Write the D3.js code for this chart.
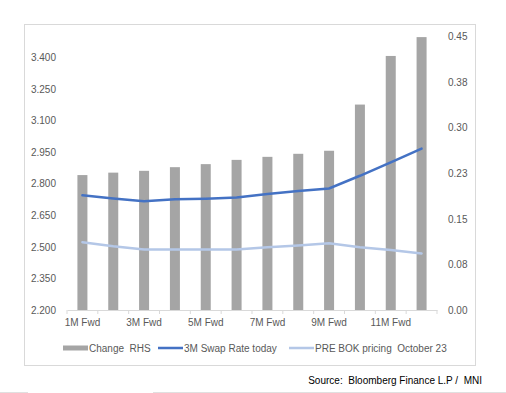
<!DOCTYPE html>
<html>
<head>
<meta charset="utf-8">
<script src="https://cdn.jsdelivr.net/npm/d3@7"></script>
<style>
  body { margin: 0; background: #fff; }
  text { font-family: "Liberation Sans", Arial, sans-serif; white-space: pre; }
</style>
</head>
<body>
<svg id="chart" width="506" height="393"></svg>
<script>
// categories and series
let months = ["1M Fwd","2M Fwd","3M Fwd","4M Fwd","5M Fwd","6M Fwd","7M Fwd","8M Fwd","9M Fwd","10M Fwd","11M Fwd","12M Fwd"];
let changeRHS = [0.222, 0.226, 0.229, 0.235, 0.240, 0.247, 0.252, 0.257, 0.262, 0.338, 0.418, 0.449];
let swapToday = [2.745, 2.730, 2.717, 2.726, 2.729, 2.735, 2.751, 2.766, 2.778, 2.838, 2.902, 2.967];
let preBOK = [2.522, 2.503, 2.488, 2.488, 2.488, 2.488, 2.498, 2.507, 2.517, 2.498, 2.485, 2.469];
let leftTicks = [2.2, 2.35, 2.5, 2.65, 2.8, 2.95, 3.1, 3.25, 3.4];
let rightTicks = [0, 0.075, 0.15, 0.225, 0.3, 0.375, 0.45];

let svg = d3.select("#chart");
let textCol = "#595959";

// outer frame
svg.append("rect")
    .attr("x", 24.5).attr("y", 24.5)
    .attr("width", 451).attr("height", 341)
    .attr("fill", "none").attr("stroke", "#d9d9d9");

// scales
let x = d3.scaleBand()
    .domain(months)
    .range([67, 437]);
let yL = d3.scaleLinear()
    .domain([2.2, 3.5])
    .range([310, 36.5]);
let yR = d3.scaleLinear()
    .domain([0, 0.45])
    .range([310, 36.5]);

// bars
svg.append("g").selectAll("rect")
    .data(changeRHS).enter()
    .append("rect")
    .attr("x", (d, i) => x(months[i]) + x.bandwidth() / 2 - 5)
    .attr("width", 10)
    .attr("y", d => yR(d))
    .attr("height", d => yR(0) - yR(d))
    .attr("fill", "#a5a5a5");

// lines
let line = d3.line()
    .x((d, i) => x(months[i]) + x.bandwidth() / 2)
    .y(d => yL(d));

svg.append("path")
    .datum(preBOK)
    .attr("d", line)
    .attr("fill", "none")
    .attr("stroke", "#b4c7e7")
    .attr("stroke-width", 2.5)
    .attr("stroke-linecap", "round");

svg.append("path")
    .datum(swapToday)
    .attr("d", line)
    .attr("fill", "none")
    .attr("stroke", "#4472c4")
    .attr("stroke-width", 2.5)
    .attr("stroke-linecap", "round");

// x axis
let axisX = d3.axisBottom(x)
    .tickSize(0)
    .tickPadding(9)
    .tickFormat((d, i) => i % 2 == 0 ? d : "");
let gx = svg.append("g")
    .attr("transform", "translate(0,310)")
    .call(axisX);
gx.select(".domain").attr("stroke", "#d9d9d9");
gx.selectAll("text").attr("fill", textCol).attr("font-size", 10);

// tick marks at the band edges
svg.append("g").selectAll("line")
    .data(months.concat(["end"])).enter()
    .append("line")
    .attr("x1", (d, i) => i < months.length ? x(d) : x.range()[1])
    .attr("x2", (d, i) => i < months.length ? x(d) : x.range()[1])
    .attr("y1", 310).attr("y2", 314)
    .attr("stroke", "#d9d9d9");

// left axis
let axisL = d3.axisLeft(yL)
    .tickValues(leftTicks)
    .tickSize(0)
    .tickPadding(0)
    .tickFormat(d3.format(".3f"));
let gl = svg.append("g")
    .attr("transform", "translate(56,0)")
    .call(axisL);
gl.select(".domain").remove();
gl.selectAll("text").attr("fill", textCol).attr("font-size", 10);

// right axis
let axisR = d3.axisRight(yR)
    .tickValues(rightTicks)
    .tickSize(0)
    .tickPadding(0)
    .tickFormat(d => (Math.round(d * 100 + 1e-9) / 100).toFixed(2));
let gr = svg.append("g")
    .attr("transform", "translate(448,0)")
    .call(axisR);
gr.select(".domain").remove();
gr.selectAll("text").attr("fill", textCol).attr("font-size", 10);

// legend
let legend = [
    {label: "Change  RHS", colour: "#a5a5a5", x: 63, h: 5},
    {label: "3M Swap Rate today", colour: "#4472c4", x: 158, h: 2.5},
    {label: "PRE BOK pricing  October 23", colour: "#b4c7e7", x: 289, h: 2.5}
];
let lg = svg.append("g").selectAll("g")
    .data(legend).enter()
    .append("g")
    .attr("transform", d => "translate(" + d.x + ",348)");
lg.append("rect")
    .attr("x", 0).attr("y", d => -d.h / 2)
    .attr("width", 25).attr("height", d => d.h)
    .attr("fill", d => d.colour);
lg.append("text")
    .attr("x", 26).attr("y", 3.5)
    .attr("font-size", 10)
    .attr("fill", textCol)
    .text(d => d.label);

// source
svg.append("text")
    .attr("x", 482).attr("y", 384)
    .attr("text-anchor", "end")
    .attr("font-size", 10)
    .attr("fill", "#000")
    .text("Source:  Bloomberg Finance L.P /  MNI");

// faint bottom rule
svg.append("line")
    .attr("x1", 0).attr("x2", 28).attr("y1", 392.5).attr("y2", 392.5)
    .attr("stroke", "#e0e0e0");
svg.append("line")
    .attr("x1", 153).attr("x2", 506).attr("y1", 392.5).attr("y2", 392.5)
    .attr("stroke", "#e0e0e0");
</script>
</body>
</html>
